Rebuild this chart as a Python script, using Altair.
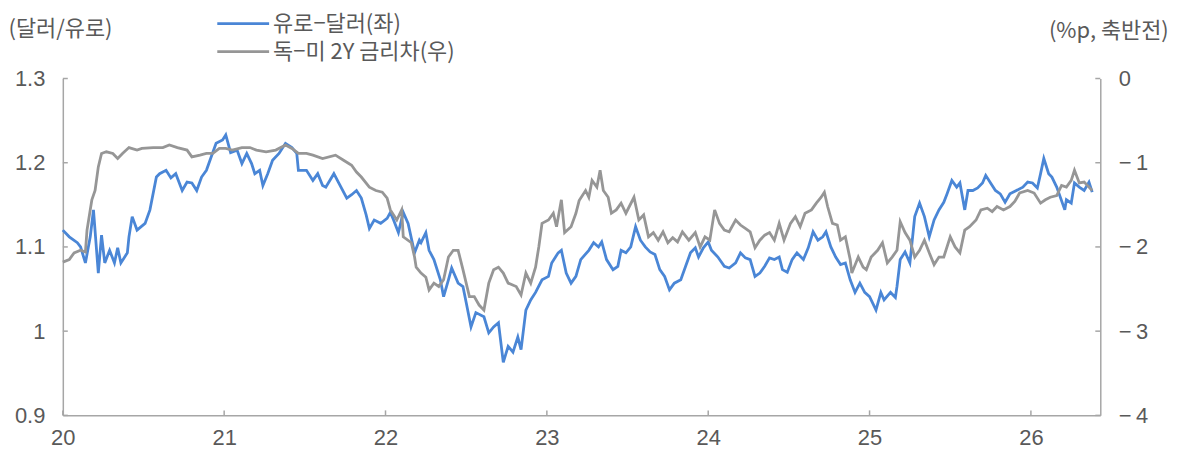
import altair as alt
import pandas as pd

# ---------------- data ----------------
fx_t = [20.00, 20.04, 20.09, 20.11, 20.14, 20.17, 20.19, 20.22, 20.24, 20.26, 20.29, 20.32, 20.34, 20.36,
        20.40, 20.41, 20.43, 20.46, 20.51, 20.54, 20.58, 20.60, 20.64, 20.67, 20.70, 20.74, 20.77, 20.80,
        20.83, 20.86, 20.89, 20.92, 20.95, 20.99, 21.01, 21.04, 21.08, 21.11, 21.14, 21.17, 21.19, 21.22,
        21.24, 21.27, 21.30, 21.34, 21.38, 21.42, 21.45, 21.46, 21.51, 21.55, 21.58, 21.61, 21.63, 21.68,
        21.71, 21.76, 21.79, 21.82, 21.85, 21.88, 21.90, 21.93, 21.97, 22.01, 22.03, 22.05, 22.08, 22.11,
        22.14, 22.18, 22.21, 22.22, 22.25, 22.27, 22.30, 22.34, 22.36, 22.39, 22.41, 22.45, 22.48, 22.50,
        22.53, 22.56, 22.61, 22.64, 22.67, 22.70, 22.73, 22.76, 22.79, 22.82, 22.84, 22.87, 22.90, 22.93,
        22.97, 23.01, 23.03, 23.07, 23.09, 23.12, 23.15, 23.18, 23.21, 23.26, 23.29, 23.32, 23.34, 23.37,
        23.41, 23.44, 23.46, 23.49, 23.52, 23.55, 23.58, 23.61, 23.64, 23.67, 23.70, 23.73, 23.76, 23.79,
        23.83, 23.86, 23.89, 23.92, 23.94, 23.97, 24.00, 24.02, 24.06, 24.10, 24.13, 24.17, 24.20, 24.23,
        24.26, 24.29, 24.32, 24.35, 24.38, 24.41, 24.44, 24.46, 24.49, 24.52, 24.55, 24.59, 24.62, 24.65,
        24.68, 24.71, 24.73, 24.76, 24.79, 24.82, 24.85, 24.88, 24.91, 24.94, 24.97, 25.00, 25.04, 25.07,
        25.09, 25.13, 25.16, 25.17, 25.19, 25.22, 25.25, 25.28, 25.31, 25.34, 25.37, 25.40, 25.43, 25.46,
        25.48, 25.51, 25.54, 25.56, 25.59, 25.61, 25.64, 25.67, 25.70, 25.72, 25.75, 25.78, 25.81, 25.84,
        25.87, 25.91, 25.95, 25.98, 26.01, 26.04, 26.06, 26.08, 26.11, 26.13, 26.16, 26.21, 26.22, 26.25,
        26.27, 26.30, 26.33, 26.36, 26.38]
fx_v = [1.120, 1.112, 1.105, 1.100, 1.081, 1.112, 1.144, 1.069, 1.114, 1.081, 1.096, 1.081, 1.099, 1.081,
        1.093, 1.112, 1.136, 1.120, 1.128, 1.144, 1.183, 1.187, 1.191, 1.182, 1.187, 1.167, 1.177, 1.176,
        1.167, 1.183, 1.191, 1.207, 1.223, 1.227, 1.233, 1.212, 1.215, 1.199, 1.211, 1.199, 1.187, 1.191,
        1.173, 1.187, 1.203, 1.211, 1.223, 1.218, 1.211, 1.191, 1.191, 1.179, 1.187, 1.173, 1.171, 1.187,
        1.176, 1.158, 1.162, 1.167, 1.158, 1.138, 1.122, 1.132, 1.128, 1.134, 1.141, 1.132, 1.117, 1.141,
        1.128, 1.093, 1.108, 1.105, 1.117, 1.096, 1.085, 1.061, 1.041, 1.061, 1.075, 1.057, 1.053, 1.034,
        1.005, 1.022, 1.017, 0.998, 1.005, 1.010, 0.963, 0.982, 0.975, 0.993, 0.978, 1.025, 1.037, 1.046,
        1.061, 1.065, 1.081, 1.093, 1.096, 1.069, 1.057, 1.065, 1.085, 1.096, 1.105, 1.100, 1.106, 1.085,
        1.073, 1.077, 1.096, 1.093, 1.100, 1.124, 1.108, 1.100, 1.094, 1.091, 1.073, 1.065, 1.049, 1.057,
        1.061, 1.077, 1.093, 1.099, 1.088, 1.099, 1.106, 1.096, 1.088, 1.077, 1.075, 1.081, 1.093, 1.087,
        1.085, 1.065, 1.069, 1.077, 1.087, 1.085, 1.088, 1.073, 1.070, 1.085, 1.093, 1.085, 1.099, 1.118,
        1.108, 1.112, 1.118, 1.100, 1.088, 1.079, 1.081, 1.061, 1.046, 1.057, 1.046, 1.041, 1.025, 1.046,
        1.037, 1.046, 1.040, 1.053, 1.085, 1.094, 1.081, 1.136, 1.152, 1.136, 1.112, 1.132, 1.144, 1.153,
        1.163, 1.179, 1.171, 1.176, 1.144, 1.167, 1.167, 1.170, 1.176, 1.185, 1.176, 1.167, 1.163, 1.153,
        1.163, 1.167, 1.171, 1.177, 1.176, 1.170, 1.187, 1.205, 1.187, 1.183, 1.171, 1.144, 1.156, 1.152,
        1.176, 1.171, 1.167, 1.177, 1.165]

sp_t = [20.00, 20.04, 20.07, 20.11, 20.14, 20.15, 20.18, 20.20, 20.22, 20.24, 20.27, 20.31, 20.34, 20.37,
        20.41, 20.46, 20.49, 20.56, 20.62, 20.66, 20.71, 20.77, 20.80, 20.85, 20.89, 20.93, 20.97, 21.01,
        21.05, 21.11, 21.16, 21.20, 21.26, 21.32, 21.38, 21.42, 21.46, 21.51, 21.55, 21.61, 21.69, 21.74,
        21.79, 21.82, 21.85, 21.90, 21.94, 21.98, 22.01, 22.03, 22.07, 22.10, 22.11, 22.16, 22.18, 22.19,
        22.22, 22.25, 22.27, 22.30, 22.33, 22.36, 22.39, 22.42, 22.45, 22.48, 22.52, 22.55, 22.58, 22.61,
        22.64, 22.67, 22.70, 22.73, 22.76, 22.81, 22.84, 22.87, 22.90, 22.93, 22.95, 22.97, 23.01, 23.04,
        23.06, 23.09, 23.11, 23.15, 23.18, 23.20, 23.24, 23.26, 23.28, 23.31, 23.33, 23.35, 23.38, 23.40,
        23.43, 23.46, 23.49, 23.54, 23.57, 23.60, 23.63, 23.66, 23.69, 23.72, 23.75, 23.78, 23.81, 23.84,
        23.88, 23.92, 23.95, 23.98, 24.01, 24.04, 24.07, 24.10, 24.13, 24.17, 24.20, 24.23, 24.26, 24.29,
        24.32, 24.35, 24.38, 24.41, 24.44, 24.47, 24.51, 24.54, 24.57, 24.60, 24.64, 24.67, 24.70, 24.72,
        24.74, 24.77, 24.80, 24.82, 24.85, 24.88, 24.89, 24.93, 24.96, 24.98, 25.01, 25.05, 25.08, 25.11,
        25.14, 25.17, 25.19, 25.22, 25.25, 25.28, 25.31, 25.34, 25.37, 25.40, 25.43, 25.46, 25.50, 25.53,
        25.56, 25.59, 25.62, 25.66, 25.69, 25.73, 25.76, 25.79, 25.83, 25.87, 25.90, 25.93, 25.98, 26.02,
        26.06, 26.09, 26.12, 26.16, 26.19, 26.22, 26.25, 26.27, 26.30, 26.33, 26.36, 26.38]
sp_v = [-2.18, -2.15, -2.07, -2.04, -2.06, -1.80, -1.44, -1.33, -1.05, -0.89, -0.87, -0.89, -0.95, -0.89,
        -0.82, -0.85, -0.83, -0.82, -0.82, -0.79, -0.82, -0.85, -0.93, -0.91, -0.89, -0.89, -0.83, -0.83,
        -0.85, -0.82, -0.82, -0.85, -0.87, -0.85, -0.79, -0.83, -0.89, -0.89, -0.91, -0.95, -0.91, -0.97,
        -1.03, -1.11, -1.17, -1.29, -1.33, -1.35, -1.42, -1.56, -1.68, -1.56, -1.88, -1.95, -2.12, -2.24,
        -2.31, -2.36, -2.51, -2.43, -2.47, -2.39, -2.12, -2.04, -2.04, -2.27, -2.59, -2.59, -2.69, -2.75,
        -2.43, -2.27, -2.24, -2.31, -2.43, -2.47, -2.57, -2.31, -2.43, -2.24, -2.00, -1.72, -1.68, -1.60,
        -1.76, -1.44, -1.83, -1.76, -1.60, -1.45, -1.33, -1.41, -1.21, -1.29, -1.09, -1.33, -1.41, -1.60,
        -1.56, -1.48, -1.60, -1.41, -1.68, -1.62, -1.88, -1.83, -1.92, -1.82, -1.95, -1.89, -1.94, -1.82,
        -1.92, -1.83, -2.00, -1.88, -1.92, -1.56, -1.72, -1.80, -1.82, -1.68, -1.74, -1.78, -1.82, -2.01,
        -1.92, -1.86, -1.83, -1.92, -1.72, -1.92, -1.72, -1.64, -1.76, -1.60, -1.56, -1.48, -1.41, -1.35,
        -1.52, -1.72, -1.74, -1.92, -1.88, -2.15, -2.31, -2.12, -2.24, -2.27, -2.12, -2.04, -1.95, -2.19,
        -2.12, -2.04, -1.70, -1.83, -1.92, -2.12, -2.04, -1.92, -2.07, -2.21, -2.12, -2.12, -1.88, -2.00,
        -2.07, -1.80, -1.76, -1.68, -1.56, -1.54, -1.58, -1.52, -1.56, -1.52, -1.46, -1.36, -1.33, -1.36,
        -1.48, -1.44, -1.41, -1.39, -1.27, -1.29, -1.21, -1.09, -1.24, -1.23, -1.29, -1.33]

x_ticks = [20, 21, 22, 23, 24, 25, 26]
left_ticks = [0.9, 1.0, 1.1, 1.2, 1.3]
right_ticks = [-4, -3, -2, -1, 0]
legend_labels = ["유로−달러(좌)", "독−미 2Y 금리차(우)"]
left_title = "(달러/유로)"
right_title = "(%p, 축반전)"

# ---------------- style ----------------
W, H = 1041, 338
FONT = "Noto Sans CJK KR"
NUMFONT = "Liberation Sans"
FS = 22
LABEL = "#595959"
AXIS = "#a6a6a6"
BLUE = "#4A86D6"
GRAY = "#969696"
TICK = 5
LW = 2.8

fx = pd.DataFrame({"t": fx_t, "v": fx_v})
sp = pd.DataFrame({"t": sp_t, "v": sp_v})

xs = alt.Scale(domain=[20, 26.43], nice=False, zero=False)
ls = alt.Scale(domain=[0.9, 1.3], nice=False, zero=False)
rs = alt.Scale(domain=[-4, 0], nice=False, zero=False)

common = dict(ticks=False, grid=False, domainColor=AXIS, domainWidth=1.5, labelColor=LABEL,
              labelFont=NUMFONT, labelFontSize=FS, labelFlush=False, labelOverlap=False)

x_axis = alt.Axis(values=x_ticks, format="d", labelPadding=12, title=None, **common)
left_axis = alt.Axis(orient="left", values=left_ticks, format=".1~f", labelPadding=18,
                     title=left_title, titleAngle=0, titleAlign="left", titleBaseline="middle",
                     titleX=-55, titleY=-50, titleFont=FONT, titleFontSize=FS,
                     titleFontWeight="normal", titleColor=LABEL, **common)
right_axis = alt.Axis(orient="right", values=right_ticks, labelPadding=18,
                      labelExpr="datum.value == 0 ? '0' : '\u2212\u2009' + abs(datum.value)",
                      title=right_title, titleAngle=0, titleAlign="left", titleBaseline="middle",
                      titleX=-52, titleY=-48, titleFont=FONT, titleFontSize=FS,
                      titleFontWeight="normal", titleColor=LABEL, **common)

fx_line = alt.Chart(fx).mark_line(color=BLUE, strokeWidth=LW).encode(
    x=alt.X("t:Q", scale=xs, axis=x_axis),
    y=alt.Y("v:Q", scale=ls, axis=left_axis),
)
left_tick_rules = alt.Chart(pd.DataFrame({"v": left_ticks})).mark_rule(color=AXIS, strokeWidth=1.5).encode(
    y=alt.Y("v:Q", scale=ls, axis=left_axis), x=alt.value(0), x2=alt.value(TICK)
)
x_tick_rules = alt.Chart(pd.DataFrame({"t": x_ticks})).mark_rule(color=AXIS, strokeWidth=1.5).encode(
    x=alt.X("t:Q", scale=xs, axis=x_axis), y=alt.value(H), y2=alt.value(H - TICK)
)
left = alt.layer(fx_line, left_tick_rules, x_tick_rules)

sp_line = alt.Chart(sp).mark_line(color=GRAY, strokeWidth=LW).encode(
    x=alt.X("t:Q", scale=xs, axis=x_axis),
    y=alt.Y("v:Q", scale=rs, axis=right_axis),
)
right_tick_rules = alt.Chart(pd.DataFrame({"v": right_ticks})).mark_rule(color=AXIS, strokeWidth=1.5).encode(
    y=alt.Y("v:Q", scale=rs, axis=right_axis), x=alt.value(W), x2=alt.value(W - TICK)
)
right = alt.layer(sp_line, right_tick_rules)

# legend (manual)
leg_rows = []
for lab, col, yy in [(legend_labels[0], BLUE, -55), (legend_labels[1], GRAY, -27)]:
    d = pd.DataFrame({"label": [lab]})
    leg_rows.append(alt.Chart(d).mark_rule(color=col, strokeWidth=LW).encode(
        x=alt.value(155), x2=alt.value(207), y=alt.value(yy)))
    leg_rows.append(alt.Chart(d).mark_text(align="left", baseline="middle", font=FONT,
                                           fontSize=FS, color=LABEL).encode(
        x=alt.value(211), y=alt.value(yy), text="label:N"))

chart = alt.layer(left, right, *leg_rows).resolve_scale(y="independent").properties(
    width=W, height=H,
    autosize=alt.AutoSizeParams(type="none"),
    padding={"left": 55, "top": 70, "right": 85, "bottom": 33},
).configure_view(stroke=None)

chart.save("out.html", embed_options={"renderer": "svg", "actions": False})
